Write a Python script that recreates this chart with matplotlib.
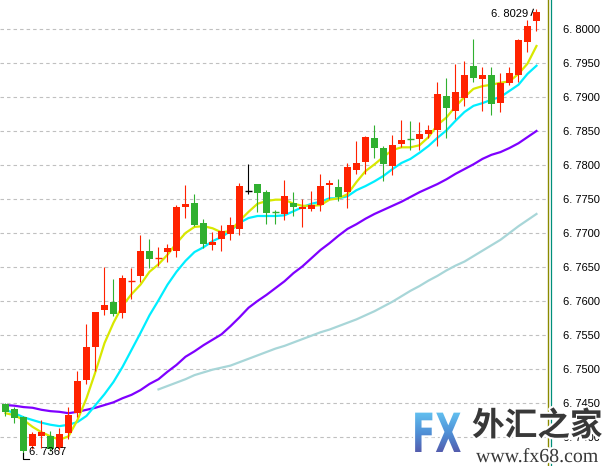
import numpy as np
import matplotlib
matplotlib.use("Agg")
import matplotlib.pyplot as plt
import matplotlib.patheffects as pe
import matplotlib.transforms as mtransforms
from matplotlib.textpath import TextPath
from matplotlib.patches import PathPatch
from matplotlib.font_manager import FontProperties
from matplotlib.colors import LinearSegmentedColormap

# USD/CNH style candles, oldest -> newest
opens = [6.7449, 6.7441, 6.7429, 6.7387, 6.7401, 6.7401, 6.7384, 6.7406, 6.7435, 6.7484,
         6.7532, 6.7587, 6.7599, 6.7582, 6.7629, 6.7637, 6.7674, 6.7663, 6.7672, 6.7674,
         6.7738, 6.7744, 6.7715, 6.7682, 6.7691, 6.7699, 6.7706, 6.7762, 6.7772, 6.7760,
         6.7732, 6.7728, 6.7744, 6.7735, 6.7735, 6.7741, 6.7771, 6.7768, 6.7760, 6.7793,
         6.7804, 6.7840, 6.7825, 6.7799, 6.7831, 6.7839, 6.7838, 6.7846, 6.7851, 6.7901,
         6.7879, 6.7899, 6.7946, 6.7926, 6.7932, 6.7891, 6.7921, 6.7932, 6.7981, 6.8012]
highs = [6.7450, 6.7444, 6.7431, 6.7407, 6.7425, 6.7409, 6.7413, 6.7444, 6.7497, 6.7566,
         6.7584, 6.7650, 6.7632, 6.7638, 6.7649, 6.7697, 6.7691, 6.7679, 6.7684, 6.7741,
         6.7771, 6.7757, 6.7721, 6.7701, 6.7712, 6.7724, 6.7774, 6.7801, 6.7772, 6.7763,
         6.7734, 6.7778, 6.7760, 6.7750, 6.7762, 6.7787, 6.7778, 6.7779, 6.7803, 6.7835,
         6.7843, 6.7859, 6.7828, 6.7844, 6.7866, 6.7865, 6.7863, 6.7859, 6.7922, 6.7928,
         6.7949, 6.7953, 6.7985, 6.7944, 6.7944, 6.7935, 6.7944, 6.7985, 6.8013, 6.8029]
lows = [6.7431, 6.7421, 6.7367, 6.7382, 6.7384, 6.7379, 6.7381, 6.7397, 6.7429, 6.7478,
        6.7497, 6.7579, 6.7578, 6.7575, 6.7603, 6.7628, 6.7649, 6.7651, 6.7657, 6.7665,
        6.7722, 6.7710, 6.7678, 6.7675, 6.7674, 6.7690, 6.7697, 6.7757, 6.7731, 6.7713,
        6.7713, 6.7719, 6.7725, 6.7709, 6.7732, 6.7732, 6.7750, 6.7747, 6.7737, 6.7787,
        6.7787, 6.7810, 6.7776, 6.7785, 6.7826, 6.7822, 6.7822, 6.7840, 6.7828, 6.7840,
        6.7868, 6.7887, 6.7922, 6.7879, 6.7874, 6.7878, 6.7918, 6.7922, 6.7966, 6.7997]
closes = [6.7437, 6.7428, 6.7379, 6.7404, 6.7407, 6.7382, 6.7404, 6.7432, 6.7482, 6.7532,
          6.7584, 6.7594, 6.7581, 6.7634, 6.7630, 6.7674, 6.7662, 6.7664, 6.7678, 6.7738,
          6.7743, 6.7712, 6.7684, 6.7687, 6.7703, 6.7712, 6.7769, 6.7762, 6.7759, 6.7729,
          6.7731, 6.7754, 6.7738, 6.7738, 6.7741, 6.7769, 6.7774, 6.7753, 6.7797, 6.7803,
          6.7841, 6.7825, 6.7801, 6.7829, 6.7837, 6.7838, 6.7846, 6.7851, 6.7904, 6.7884,
          6.7907, 6.7932, 6.7928, 6.7932, 6.7890, 6.7921, 6.7935, 6.7984, 6.8004, 6.8025]

# moving averages
ma_fast = [6.7435, 6.7432, 6.7425, 6.7415, 6.7407, 6.7401, 6.7396, 6.7401, 6.7425, 6.7457,
           6.7496, 6.7538, 6.7568, 6.7593, 6.7610, 6.7624, 6.7643, 6.7654, 6.7668, 6.7685,
           6.7700, 6.7709, 6.7710, 6.7707, 6.7701, 6.7703, 6.7718, 6.7731, 6.7743, 6.7747,
           6.7749, 6.7749, 6.7743, 6.7740, 6.7740, 6.7741, 6.7749, 6.7751, 6.7757, 6.7775,
           6.7791, 6.7801, 6.7812, 6.7822, 6.7826, 6.7826, 6.7829, 6.7841, 6.7859, 6.7870,
           6.7886, 6.7900, 6.7912, 6.7916, 6.7918, 6.7921, 6.7923, 6.7934, 6.7949, 6.7975]
ma_mid = [6.7440, 6.7435, 6.7429, 6.7425, 6.7421, 6.7418, 6.7416, 6.7418, 6.7422, 6.7431,
          6.7447, 6.7463, 6.7481, 6.7503, 6.7528, 6.7553, 6.7579, 6.7601, 6.7624, 6.7643,
          6.7659, 6.7672, 6.7679, 6.7688, 6.7694, 6.7703, 6.7715, 6.7722, 6.7725, 6.7725,
          6.7725, 6.7726, 6.7732, 6.7738, 6.7743, 6.7746, 6.7751, 6.7751, 6.7754, 6.7763,
          6.7769, 6.7776, 6.7784, 6.7794, 6.7803, 6.7809, 6.7818, 6.7828, 6.7840, 6.7851,
          6.7865, 6.7878, 6.7887, 6.7891, 6.7896, 6.7900, 6.7909, 6.7918, 6.7934, 6.7946]
ma_slow = [6.7447, 6.7446, 6.7444, 6.7443, 6.7440, 6.7438, 6.7437, 6.7435, 6.7437, 6.7440,
           6.7443, 6.7447, 6.7451, 6.7457, 6.7462, 6.7469, 6.7478, 6.7485, 6.7496, 6.7506,
           6.7518, 6.7526, 6.7535, 6.7543, 6.7551, 6.7563, 6.7576, 6.7590, 6.7600, 6.7609,
           6.7619, 6.7629, 6.7641, 6.7651, 6.7663, 6.7675, 6.7685, 6.7696, 6.7706, 6.7713,
           6.7721, 6.7728, 6.7734, 6.7740, 6.7746, 6.7753, 6.7760, 6.7766, 6.7772, 6.7779,
           6.7787, 6.7794, 6.7801, 6.7809, 6.7815, 6.7819, 6.7825, 6.7832, 6.7841, 6.7850]
long_start = 17
ma_long = [6.7470, 6.7475, 6.7480, 6.7485, 6.7491, 6.7495, 6.7499, 6.7502, 6.7505, 6.7510,
           6.7515, 6.7520, 6.7525, 6.7530, 6.7534, 6.7539, 6.7544, 6.7549, 6.7554, 6.7558,
           6.7563, 6.7568, 6.7573, 6.7579, 6.7585, 6.7592, 6.7599, 6.7607, 6.7615, 6.7622,
           6.7630, 6.7637, 6.7645, 6.7652, 6.7658, 6.7666, 6.7674, 6.7682, 6.7690, 6.7700,
           6.7710, 6.7719, 6.7728]

price_ticks = [6.7400, 6.7450, 6.7500, 6.7550, 6.7600, 6.7650, 6.7700,
               6.7750, 6.7800, 6.7850, 6.7900, 6.7950, 6.8000]

UP = "#ff2200"
DOWN = "#30b030"


def price_label(v):
    # the terminal prints prices as "6. 8000"
    s = "%.4f" % v
    return s[:2] + " " + s[2:]


W, H = 603, 466
fig = plt.figure(figsize=(W / 100, H / 100), dpi=100)
fig.patch.set_facecolor("white")
ax = fig.add_axes([0, 0, 548 / W, 1])
ax.set_xlim(-0.611, 60.28)
ax.set_ylim(6.735735, 6.804265)

for s in ["top", "left", "bottom"]:
    ax.spines[s].set_visible(False)
ax.spines["right"].set_color("#8a8a00")
ax.spines["right"].set_linewidth(1.0)
fig.add_artist(plt.Line2D([550.5 / W, 550.5 / W], [0, 1], color="#008f7a", lw=0.9))

ax.set_xticks([])
ax.set_yticks(price_ticks)
ax.set_yticklabels([price_label(v) for v in price_ticks],
                   fontfamily="Liberation Sans", fontsize=8)
ax.yaxis.tick_right()
ax.tick_params(axis="y", length=0, pad=11, colors="black")
plt.rcParams["lines.scale_dashes"] = False
ax.grid(axis="y", color="#c0c0c0", lw=0.8, linestyle=(0, (2.5, 2.2)), zorder=0)

x = np.arange(len(closes))
o = np.array(opens)
c = np.array(closes)

# moving averages (under the candles)
ax.plot(x, ma_slow, color="#7f00ff", lw=1.6, zorder=2)
ax.plot(x[long_start:], ma_long, color="#a8d6d8", lw=1.6, zorder=2)
ax.plot(x, ma_mid, color="#00eeff", lw=1.6, zorder=2)
ax.plot(x, ma_fast, color="#d8e800", lw=1.6, zorder=2)

cols = np.where(c > o, UP, np.where(c < o, DOWN, "black"))
ax.vlines(x, lows, highs, colors=cols, lw=0.8, zorder=3)
body_lo = np.minimum(o, c)
body_h = np.abs(c - o)
big = body_h >= 0.00012
ax.bar(x[big], body_h[big], bottom=body_lo[big], width=0.78, color=cols[big],
       linewidth=0, zorder=4)
ax.hlines(((o + c) / 2)[~big], x[~big] - 0.39, x[~big] + 0.39, colors=cols[~big],
          lw=1.0, zorder=4)

# high / low markers
hi_i = int(np.argmax(highs))
lo_i = int(np.argmin(lows))
ax.plot([x[hi_i] - 0.35, x[hi_i] - 0.6], [highs[hi_i], highs[hi_i] - 0.0009],
        color="black", lw=0.8, zorder=5)
ax.text(x[hi_i] - 0.9, highs[hi_i] + 0.0001, price_label(highs[hi_i]),
        ha="right", va="top", fontsize=8, fontfamily="Liberation Sans", zorder=5)
ax.plot([x[lo_i], x[lo_i], x[lo_i] + 0.65], [lows[lo_i] + 0.0009, lows[lo_i], lows[lo_i]],
        color="black", lw=0.8, zorder=5)
ax.text(x[lo_i] + 0.62, lows[lo_i] + 0.0003, price_label(lows[lo_i]),
        ha="left", va="bottom", fontsize=8, fontfamily="Liberation Sans", zorder=5)

# watermark, in pixel coordinates
wm = fig.add_axes([0, 0, 1, 1], zorder=10)
wm.set_xlim(0, W)
wm.set_ylim(H, 0)
wm.axis("off")
wm.patch.set_alpha(0)

tp = TextPath((0, 0), "FX", size=1, prop=FontProperties(family="DejaVu Sans", weight="bold"))
tr = mtransforms.Affine2D().scale(34, -54).translate(412, 452) + wm.transData
halo = PathPatch(tp, transform=tr, facecolor="white", edgecolor="white", lw=3, zorder=1)
wm.add_patch(halo)
fx = PathPatch(tp, transform=tr, facecolor="none", edgecolor="none", zorder=2)
wm.add_patch(fx)
grad = np.linspace(0, 1, 100).reshape(-1, 1)
cmap = LinearSegmentedColormap.from_list("fx", ["#62c0f0", "#4f8fd6", "#5458aa"])
img = wm.imshow(grad, extent=[410, 468, 454, 412], cmap=cmap, aspect="auto", zorder=2)
img.set_clip_path(fx)

halo_fx = [pe.withStroke(linewidth=3, foreground="white")]
wm.text(472, 426, "外汇之家", fontsize=23.5, fontfamily="Noto Sans CJK SC", fontweight="heavy",
        color="#383838", va="center", ha="left", path_effects=halo_fx, zorder=3)
wm.text(476, 462, "www.fx68.com", fontsize=14.3, fontfamily="Liberation Serif",
        color="#383838", va="baseline", ha="left", path_effects=halo_fx, zorder=3)

fig.savefig("out.png", dpi=100, facecolor="white")
